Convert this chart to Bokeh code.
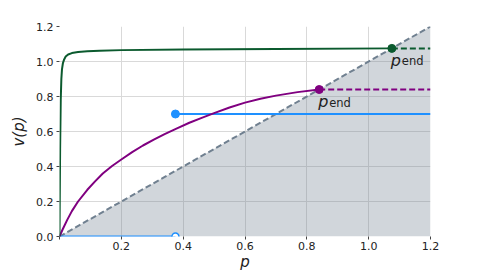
from bokeh.plotting import figure
from bokeh.models import Range1d, FixedTicker, Label, PrintfTickFormatter
from bokeh.embed import file_html
from bokeh.resources import INLINE

# ---- data ----
diag = [0.0, 1.2]

green_p = [0.0, 0.002, 0.004, 0.006, 0.008, 0.011, 0.015, 0.02, 0.028, 0.04, 0.06, 0.09,
           0.13, 0.2, 0.4, 0.7, 1.075]
green_v = [0.0, 0.5, 0.78, 0.9, 0.955, 0.99, 1.012, 1.028, 1.04, 1.048, 1.054, 1.058,
           1.061, 1.065, 1.069, 1.072, 1.075]
green_end = 1.075

purple_p = [0.0, 0.01, 0.025, 0.04, 0.06, 0.09, 0.115, 0.14, 0.17, 0.2, 0.235, 0.27,
            0.305, 0.34, 0.38, 0.42, 0.46, 0.5, 0.55, 0.6, 0.65, 0.7, 0.77, 0.84]
purple_v = [0.0, 0.04, 0.095, 0.145, 0.2, 0.267, 0.315, 0.36, 0.403, 0.44, 0.482, 0.52,
            0.553, 0.585, 0.618, 0.65, 0.678, 0.705, 0.737, 0.765, 0.787, 0.805, 0.825, 0.84]
purple_end = 0.84

blue_jump = 0.375
blue_low = 0.0
blue_high = 0.7

x_ticks = [0.0, 0.2, 0.4, 0.6, 0.8, 1.0, 1.2]
y_ticks = [0.0, 0.2, 0.4, 0.6, 0.8, 1.0, 1.2]
x_max = 1.2

GREEN = "#0b5a2e"
PURPLE = "#800080"
BLUE = "#1e90ff"
SLATE = "#708090"
FONT = "DejaVu Sans"

p = figure(width=472, height=278, output_backend="svg", toolbar_location=None,
           x_range=Range1d(0, 1.2), y_range=Range1d(0, 1.2),
           frame_width=371, frame_height=210,
           min_border_left=59, min_border_right=42, min_border_top=26, min_border_bottom=40)
p.outline_line_color = None
p.background_fill_color = "white"
p.border_fill_color = "white"

# shaded region under diagonal
p.varea(x=diag, y1=[0, 0], y2=diag, fill_color=SLATE, fill_alpha=0.32)
p.line(diag, diag, line_color=SLATE, line_width=2, line_dash="6 3")

# blue step
p.line([0, blue_jump], [blue_low, blue_low], line_color=BLUE, line_width=2)
p.line([blue_jump, x_max], [blue_high, blue_high], line_color=BLUE, line_width=2)
p.scatter([blue_jump], [blue_high], size=8, fill_color=BLUE, line_color=BLUE)
p.scatter([blue_jump], [blue_low], size=7, fill_color="white", line_color=BLUE, line_width=1.5)

# purple
p.line(purple_p, purple_v, line_color=PURPLE, line_width=2)
p.line([purple_end, x_max], [purple_end, purple_end], line_color=PURPLE, line_width=2, line_dash="6 3")
p.scatter([purple_end], [purple_end], size=8, fill_color=PURPLE, line_color=PURPLE)

# green
p.line(green_p, green_v, line_color=GREEN, line_width=2)
p.line([green_end, x_max], [green_end, green_end], line_color=GREEN, line_width=2, line_dash="6 3")
p.scatter([green_end], [green_end], size=8, fill_color=GREEN, line_color=GREEN)

# p_end labels
for xe in (green_end, purple_end):
    p.add_layout(Label(x=xe, y=xe, x_offset=-1, y_offset=-12, text="p",
                       text_font=FONT, text_font_style="italic", text_font_size="16px",
                       text_color="#222222", text_baseline="alphabetic"))
    p.add_layout(Label(x=xe, y=xe, x_offset=10, y_offset=-13, text="end",
                       text_font=FONT, text_font_size="11.5px",
                       text_color="#222222", text_baseline="alphabetic"))

# axes
p.xaxis.ticker = FixedTicker(ticks=x_ticks)
p.yaxis.ticker = FixedTicker(ticks=y_ticks)
p.xaxis.formatter = PrintfTickFormatter(format="%.1f")
p.yaxis.formatter = PrintfTickFormatter(format="%.1f")
p.xaxis.major_label_overrides = {0: ""}
for ax in (p.xaxis[0], p.yaxis[0]):
    ax.axis_line_color = None
    ax.major_tick_line_color = "#444444"
    ax.major_tick_in = 0
    ax.major_tick_out = 3
    ax.minor_tick_line_color = None
    ax.major_label_text_font = FONT
    ax.major_label_text_font_size = "11px"
    ax.major_label_text_color = "#222222"
    ax.axis_label_text_font = FONT
    ax.axis_label_text_font_style = "italic"
    ax.axis_label_text_font_size = "15px"
    ax.axis_label_text_color = "#222222"
p.xaxis.axis_label = "p"
p.yaxis.axis_label = "v(p)"
p.xaxis.axis_label_standoff = 0
p.yaxis.axis_label_standoff = 5
p.xaxis.major_label_standoff = 2
p.yaxis.major_label_standoff = 3

p.grid.grid_line_color = "#d9d9d9"
p.grid.grid_line_width = 1

open("out.html", "w").write(file_html(p, INLINE))
